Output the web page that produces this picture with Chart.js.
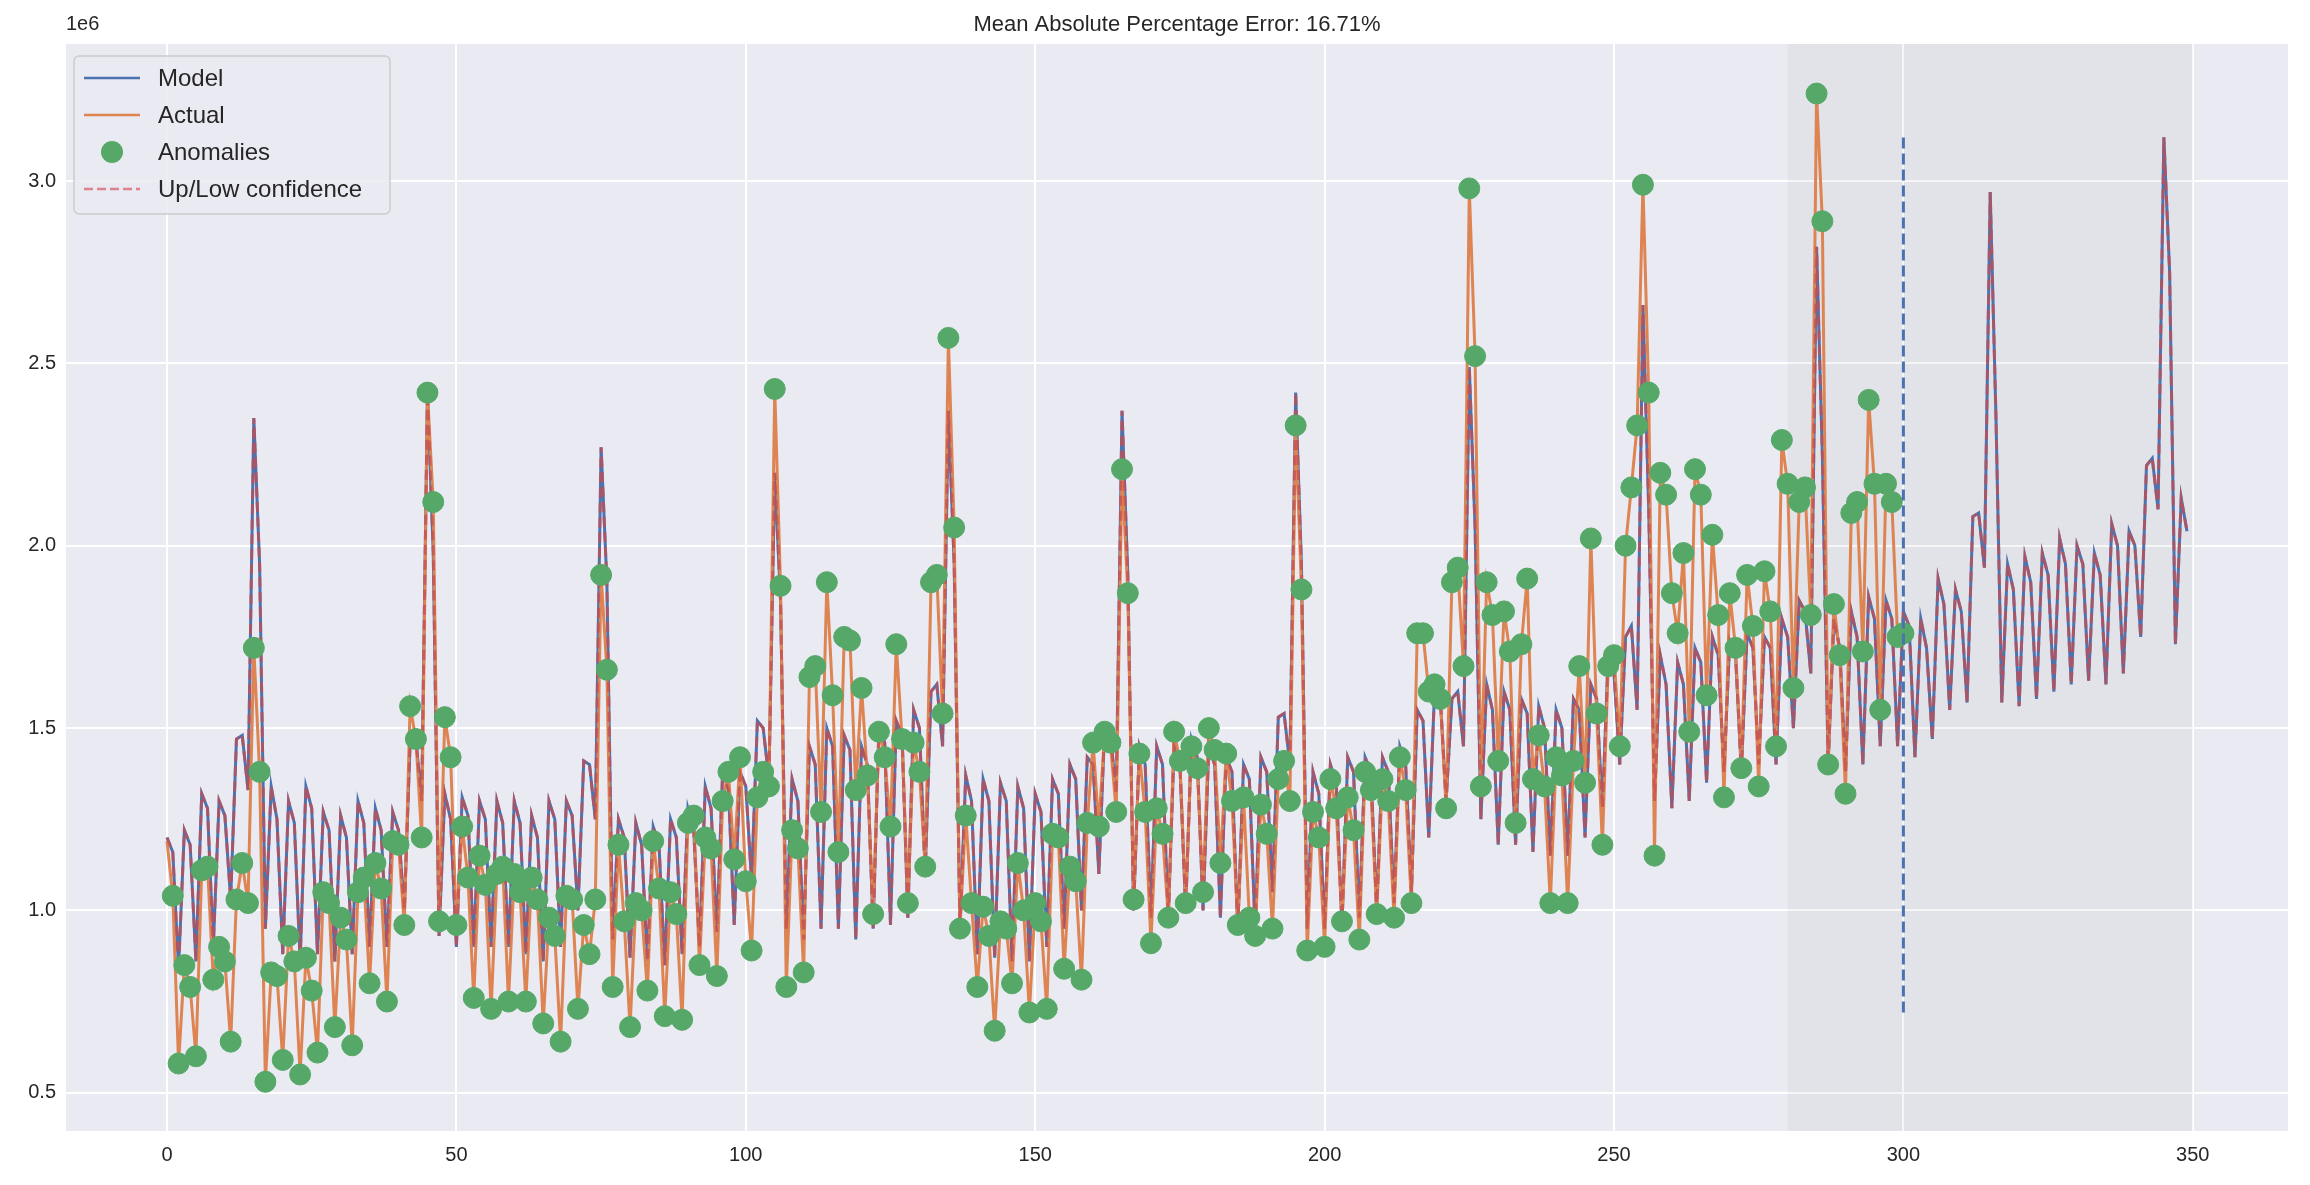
<!DOCTYPE html>
<html><head><meta charset="utf-8">
<script src="https://cdn.jsdelivr.net/npm/chart.js@4/dist/chart.umd.min.js"></script>
<style>html,body{margin:0;padding:0;background:#fff}canvas{display:block}</style>
</head><body>
<canvas id="c" width="2310" height="1185"></canvas>
<script>
const titleText = "Mean Absolute Percentage Error: 16.71%";
const xTicks = [0, 50, 100, 150, 200, 250, 300, 350];
const yTicks = [0.5, 1.0, 1.5, 2.0, 2.5, 3.0];
const yExponentLabel = "1e6";
const splitIndex = 300;
const shadeRange = [280, 350];
const splitLineRange = [0.72, 3.12];
const firstAnomalyIndex = 1;

// values in millions
const actual = [
1.19,1.04,0.58,0.85,0.79,0.60,1.11,1.12,0.81,0.90,
0.86,0.64,1.03,1.13,1.02,1.72,1.38,0.53,0.83,0.82,
0.59,0.93,0.86,0.55,0.87,0.78,0.61,1.05,1.02,0.68,
0.98,0.92,0.63,1.05,1.09,0.80,1.13,1.06,0.75,1.19,
1.18,0.96,1.56,1.47,1.20,2.42,2.12,0.97,1.53,1.42,
0.96,1.23,1.09,0.76,1.15,1.07,0.73,1.10,1.12,0.75,
1.10,1.05,0.75,1.09,1.03,0.69,0.98,0.93,0.64,1.04,
1.03,0.73,0.96,0.88,1.03,1.92,1.66,0.79,1.18,0.97,
0.68,1.02,1.00,0.78,1.19,1.06,0.71,1.05,0.99,0.70,
1.24,1.26,0.85,1.20,1.17,0.82,1.30,1.38,1.14,1.42,
1.08,0.89,1.31,1.38,1.34,2.43,1.89,0.79,1.22,1.17,
0.83,1.64,1.67,1.27,1.90,1.59,1.16,1.75,1.74,1.33,
1.61,1.37,0.99,1.49,1.42,1.23,1.73,1.47,1.02,1.46,
1.38,1.12,1.90,1.92,1.54,2.57,2.05,0.95,1.26,1.02,
0.79,1.01,0.93,0.67,0.97,0.95,0.80,1.13,1.00,0.72,
1.02,0.97,0.73,1.21,1.20,0.84,1.12,1.08,0.81,1.24,
1.46,1.23,1.49,1.46,1.27,2.21,1.87,1.03,1.43,1.27,
0.91,1.28,1.21,0.98,1.49,1.41,1.02,1.45,1.39,1.05,
1.50,1.44,1.13,1.43,1.30,0.96,1.31,0.98,0.93,1.29,
1.21,0.95,1.36,1.41,1.30,2.33,1.88,0.89,1.27,1.20,
0.90,1.36,1.28,0.97,1.31,1.22,0.92,1.38,1.33,0.99,
1.36,1.30,0.98,1.42,1.33,1.02,1.76,1.76,1.60,1.62,
1.58,1.28,1.90,1.94,1.67,2.98,2.52,1.34,1.90,1.81,
1.41,1.82,1.71,1.24,1.73,1.91,1.36,1.48,1.34,1.02,
1.42,1.37,1.02,1.41,1.67,1.35,2.02,1.54,1.18,1.67,
1.70,1.45,2.00,2.16,2.33,2.99,2.42,1.15,2.20,2.14,
1.87,1.76,1.98,1.49,2.21,2.14,1.59,2.03,1.81,1.31,
1.87,1.72,1.39,1.92,1.78,1.34,1.93,1.82,1.45,2.29,
2.17,1.61,2.12,2.16,1.81,3.24,2.89,1.40,1.84,1.70,
1.32,2.09,2.12,1.71,2.40,2.17,1.55,2.17,2.12,1.75,
1.76
];

const model = [
1.20,1.16,0.84,1.22,1.18,0.86,1.32,1.28,0.90,1.30,1.26,1.03,1.47,1.48,1.33,2.35,1.95,0.95,1.34,1.25,0.88,1.30,1.24,0.86,1.34,1.28,0.88,1.27,1.22,0.86,
1.26,1.20,0.88,1.30,1.24,0.90,1.28,1.22,0.90,1.27,1.22,1.00,1.46,1.47,1.30,2.42,1.98,0.93,1.32,1.25,0.90,1.31,1.26,0.90,1.30,1.25,0.90,1.30,1.24,0.90,
1.30,1.24,0.88,1.26,1.20,0.86,1.30,1.25,0.90,1.30,1.26,1.00,1.41,1.40,1.25,2.27,1.90,0.92,1.25,1.20,0.87,1.24,1.18,0.86,1.23,1.18,0.85,1.25,1.20,0.88,
1.28,1.22,0.90,1.34,1.28,0.94,1.38,1.33,0.96,1.38,1.34,1.08,1.52,1.50,1.36,2.20,1.85,0.95,1.36,1.30,0.92,1.45,1.40,0.95,1.50,1.45,0.95,1.48,1.44,0.92,
1.45,1.40,0.95,1.50,1.46,0.96,1.52,1.48,0.98,1.55,1.50,1.10,1.60,1.62,1.45,2.37,1.95,0.95,1.37,1.30,0.88,1.36,1.30,0.87,1.35,1.30,0.86,1.34,1.28,0.86,
1.32,1.27,0.90,1.36,1.32,0.95,1.40,1.36,1.00,1.42,1.40,1.10,1.50,1.48,1.32,2.37,1.92,1.00,1.45,1.40,0.98,1.45,1.40,0.98,1.45,1.40,1.00,1.47,1.42,1.00,
1.45,1.40,0.98,1.42,1.38,0.95,1.40,1.36,0.95,1.42,1.38,1.05,1.53,1.54,1.40,2.42,1.95,0.95,1.38,1.32,0.95,1.40,1.35,0.96,1.42,1.38,0.98,1.42,1.38,1.00,
1.42,1.38,1.02,1.45,1.40,1.05,1.55,1.52,1.20,1.60,1.58,1.30,1.58,1.60,1.45,2.49,2.05,1.25,1.62,1.55,1.18,1.60,1.55,1.18,1.58,1.54,1.16,1.56,1.50,1.15,
1.55,1.50,1.15,1.58,1.55,1.20,1.62,1.58,1.28,1.70,1.65,1.40,1.75,1.78,1.55,2.66,2.10,1.30,1.70,1.62,1.28,1.68,1.62,1.30,1.72,1.68,1.35,1.75,1.70,1.38,
1.74,1.70,1.38,1.76,1.72,1.40,1.75,1.72,1.40,1.80,1.75,1.50,1.85,1.82,1.65,2.82,2.25,1.40,1.80,1.72,1.38,1.82,1.75,1.40,1.86,1.80,1.45,1.85,1.80,1.45,
1.82,1.78,1.42,1.80,1.72,1.47,1.91,1.84,1.55,1.88,1.82,1.57,2.08,2.09,1.94,2.97,2.35,1.57,1.95,1.88,1.56,1.97,1.90,1.58,1.98,1.92,1.60,2.02,1.95,1.62,
2.00,1.95,1.63,1.98,1.92,1.62,2.06,2.00,1.65,2.04,2.00,1.75,2.22,2.24,2.10,3.12,2.75,1.73,2.13,2.04
];

const FONT = '"Liberation Sans", Arial, sans-serif';
const C = {blue:'#4c72b0', orange:'#dd8452', green:'#55a868', red:'rgba(196,78,82,0.75)', pink:'rgba(221,120,130,0.9)'};
const pts = a => a.map((v,i)=>({x:i,y:v}));

const bgPlugin = {
  id:'bg',
  beforeDraw(ch){
    const {ctx, chartArea:a} = ch;
    ctx.save(); ctx.fillStyle='#eaeaf2'; ctx.fillRect(a.left,a.top,a.right-a.left,a.bottom-a.top); ctx.restore();
  },
  beforeDatasetsDraw(ch){
    const {ctx, chartArea:a, scales:{x}} = ch;
    const x0 = x.getPixelForValue(shadeRange[0]), x1 = x.getPixelForValue(shadeRange[1]);
    ctx.save(); ctx.fillStyle='rgba(128,128,128,0.07)'; ctx.fillRect(x0,a.top,x1-x0,a.bottom-a.top); ctx.restore();
  },
  afterDatasetsDraw(ch){
    const {ctx, scales:{x,y}} = ch;
    ctx.save(); ctx.strokeStyle=C.blue; ctx.lineWidth=3; ctx.setLineDash([11,5]);
    const px = x.getPixelForValue(splitIndex);
    ctx.beginPath(); ctx.moveTo(px,y.getPixelForValue(splitLineRange[0])); ctx.lineTo(px,y.getPixelForValue(splitLineRange[1])); ctx.stroke();
    ctx.restore();
  },
  afterDraw(ch){
    const {ctx, chartArea:a} = ch;
    ctx.save();
    ctx.fillStyle='#262626'; ctx.font='22px '+FONT; ctx.textAlign='center'; ctx.textBaseline='middle';
    ctx.fillText(titleText,(a.left+a.right)/2,25);
    ctx.textAlign='left'; ctx.font='20px '+FONT;
    ctx.fillText(yExponentLabel,a.left,24);
    const lx=a.left+8, ly=a.top+12, lw=316, lh=158;
    ctx.fillStyle='rgba(234,234,242,0.85)'; ctx.strokeStyle='#cccccc'; ctx.lineWidth=1.5;
    ctx.beginPath(); ctx.roundRect(lx,ly,lw,lh,5); ctx.fill(); ctx.stroke();
    const items=[['Model','line',C.blue],['Actual','line',C.orange],['Anomalies','dot',C.green],['Up/Low confidence','dash',C.pink]];
    ctx.font='24px '+FONT; ctx.textBaseline='middle';
    items.forEach((it,i)=>{
      const yy=ly+22+i*37;
      ctx.strokeStyle=it[2]; ctx.fillStyle=it[2]; ctx.lineWidth=2.5;
      if(it[1]==='dot'){ctx.beginPath(); ctx.arc(lx+38,yy,11,0,Math.PI*2); ctx.fill();}
      else {ctx.setLineDash(it[1]==='dash'?[9,4]:[]); ctx.beginPath(); ctx.moveTo(lx+10,yy); ctx.lineTo(lx+66,yy); ctx.stroke(); ctx.setLineDash([]);}
      ctx.fillStyle='#262626'; ctx.fillText(it[0],lx+84,yy+1);
    });
    ctx.restore();
  }
};

new Chart(document.getElementById('c'),{
  type:'line',
  data:{datasets:[
    {label:'Model',data:pts(model),borderColor:C.blue,borderWidth:3,pointRadius:0,order:4},
    {label:'Actual',data:pts(actual),borderColor:C.orange,borderWidth:3,pointRadius:0,order:3},
    {label:'Up/Low confidence',data:pts(model),borderColor:C.red,borderWidth:3,borderDash:[10,5],pointRadius:0,order:2},
    {label:'Anomalies',type:'scatter',data:pts(actual).slice(firstAnomalyIndex),backgroundColor:C.green,borderColor:C.green,pointRadius:10.5,showLine:false,order:1}
  ]},
  options:{
    responsive:false, animation:false, devicePixelRatio:1,
    layout:{padding:{top:44,right:22,left:0,bottom:0}},
    plugins:{legend:{display:false},tooltip:{enabled:false}},
    elements:{line:{tension:0}},
    scales:{
      x:{type:'linear',min:-17.45,max:366.45,
        afterBuildTicks(s){s.ticks=xTicks.map(v=>({value:v}));},
        afterFit(s){s.height=54;},
        grid:{color:'#ffffff',lineWidth:2,drawTicks:false},border:{display:false},
        ticks:{color:'#262626',font:{size:20,family:FONT},padding:12}},
      y:{type:'linear',min:0.395,max:3.376,
        afterBuildTicks(s){s.ticks=yTicks.map(v=>({value:v}));},
        afterFit(s){s.width=66;},
        grid:{color:'#ffffff',lineWidth:2,drawTicks:false},border:{display:false},
        ticks:{color:'#262626',font:{size:20,family:FONT},padding:10,callback:v=>v.toFixed(1)}}
    }
  },
  plugins:[bgPlugin]
});
</script>
</body></html>
